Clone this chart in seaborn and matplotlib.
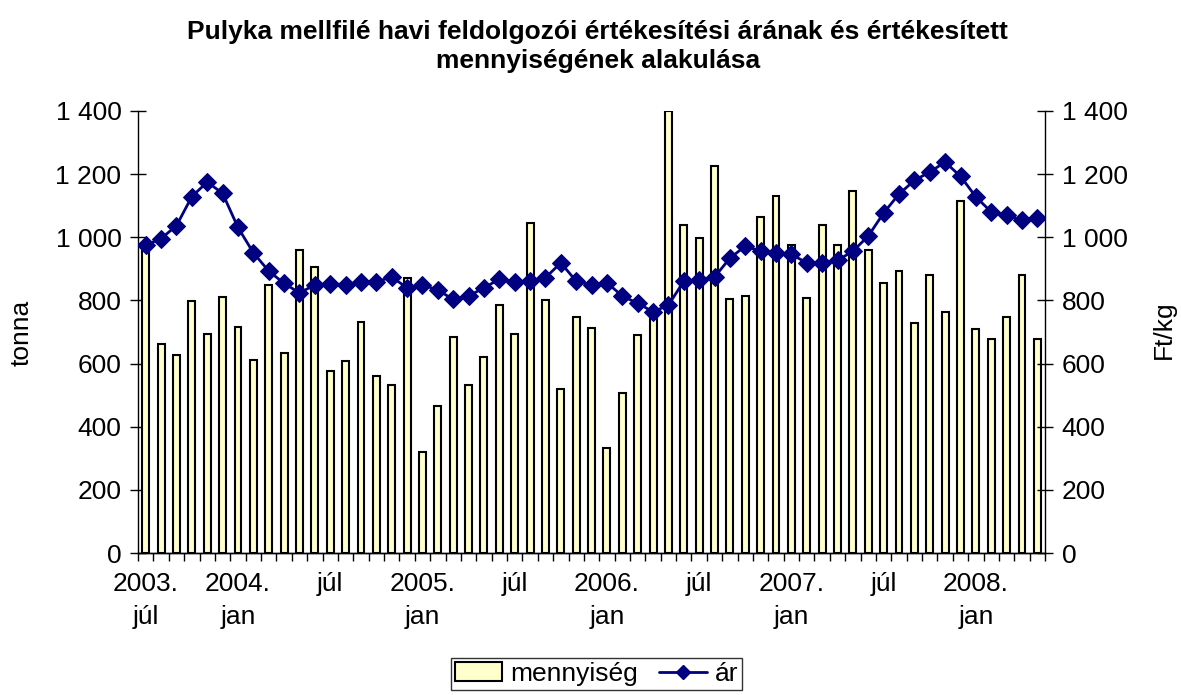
import numpy as np
import pandas as pd
import seaborn as sns
import matplotlib.pyplot as plt
from matplotlib.ticker import FuncFormatter
from matplotlib.lines import Line2D
from matplotlib.patches import Patch

# havi adatok 2003. júl - 2008. máj
honapok = pd.date_range("2003-07-01", "2008-05-01", freq="MS")

mennyiseg = [956, 661, 626, 797, 694, 812, 717, 610, 850, 635,
             961, 907, 576, 608, 731, 561, 531, 870, 320, 466,
             685, 531, 622, 786, 694, 1045, 800, 519, 748, 712,
             332, 507, 692, 761, 1400, 1040, 997, 1227, 806, 813,
             1063, 1132, 977, 809, 1040, 974, 1148, 959, 856, 893,
             727, 880, 764, 1116, 708, 677, 746, 879, 677]

ar = [975, 996, 1037, 1129, 1175, 1139, 1031, 951, 893, 854,
      824, 849, 853, 850, 859, 859, 874, 840, 849, 833,
      803, 814, 840, 867, 859, 861, 872, 919, 861, 849,
      856, 814, 791, 764, 785, 861, 866, 874, 934, 972,
      956, 951, 946, 919, 919, 927, 956, 1004, 1077, 1137,
      1180, 1207, 1238, 1193, 1128, 1080, 1069, 1054, 1062]

honap_nev = {1: "jan", 7: "júl"}


def cimke(d, i):
    if i == 0 or d.month == 1:
        return f"{d.year}.\n{honap_nev[d.month]}"
    return honap_nev[d.month]


def ezres(v, pos):
    return f"{int(v):,}".replace(",", " ")


def main():
    sns.set_theme(style="white")
    plt.rcParams['font.family'] = ['Liberation Sans', 'DejaVu Sans']
    plt.rcParams.update({"text.color": "black", "axes.labelcolor": "black",
                         "xtick.color": "black", "ytick.color": "black"})

    df = pd.DataFrame({"honap": range(len(honapok)), "mennyiseg": mennyiseg, "ar": ar})

    fig = plt.figure(figsize=(11.81, 6.95), dpi=100)
    ax = fig.add_axes([0.1169, 0.2043, 0.768, 0.636])

    sns.barplot(data=df, x="honap", y="mennyiseg", ax=ax, color="#FFFFCC",
                edgecolor="black", linewidth=1.5, width=0.45, saturation=1)

    ax2 = ax.twinx()
    sns.lineplot(data=df, x="honap", y="ar", ax=ax2, color="#000080",
                 marker="D", markersize=9.5, markeredgecolor="#000080",
                 linewidth=2)

    for a in (ax, ax2):
        a.set_ylim(0, 1400)
        a.set_yticks(range(0, 1401, 200))
        a.yaxis.set_major_formatter(FuncFormatter(ezres))
        a.tick_params(axis="y", direction="inout", length=12, width=1,
                      color="black", labelsize=19, pad=6)
        a.set_xlim(-0.5, len(honapok) - 0.5)
        a.spines["top"].set_visible(False)
        for s in ("left", "right", "bottom"):
            a.spines[s].set_color("black")
            a.spines[s].set_linewidth(1)
        a.grid(False)
        a.set_xlabel("")
        a.set_ylabel("")

    ax.spines["right"].set_visible(False)
    ax2.spines["left"].set_visible(False)

    # x tengely: feliratok félévente, osztásjelek hónaponként
    poz = list(range(0, len(honapok), 6))
    ax.set_xticks(poz)
    ax.set_xticklabels([cimke(honapok[i], i) for i in poz], fontsize=19,
                       linespacing=1.45)
    ax.tick_params(axis="x", which="major", length=0, pad=14)
    ax.set_xticks(np.arange(-0.5, len(honapok), 1), minor=True)
    ax.tick_params(axis="x", which="minor", length=6, width=1,
                   color="black", direction="out", bottom=True)

    fig.text(22 / 1181, 1 - 333 / 695, "tonna", rotation=90, ha="center",
             va="center", fontsize=19)
    fig.text(1164 / 1181, 1 - 330 / 695, "Ft/kg", rotation=90, ha="center",
             va="center", fontsize=19)

    fig.text(0.506, 0.933, "Pulyka mellfilé havi feldolgozói értékesítési árának és értékesített\n"
             "mennyiségének alakulása", ha="center", va="center",
             fontsize=19, fontweight="bold", linespacing=1.3)

    kezelok = [Patch(facecolor="#FFFFCC", edgecolor="black", linewidth=1.5),
               Line2D([], [], color="#000080", marker="D", markersize=7.5, linewidth=2)]
    leg = fig.legend(kezelok, ["mennyiség", "ár"], loc="lower center",
                     bbox_to_anchor=(0.505, 0.0), ncol=2, fontsize=19,
                     frameon=True, fancybox=False, edgecolor="black",
                     handlelength=1.8, handletextpad=0.3, columnspacing=0.8,
                     borderpad=0.15, borderaxespad=0.2)
    leg.get_frame().set_linewidth(1)

    fig.savefig("out.png", dpi=100)


if __name__ == "__main__":
    main()
